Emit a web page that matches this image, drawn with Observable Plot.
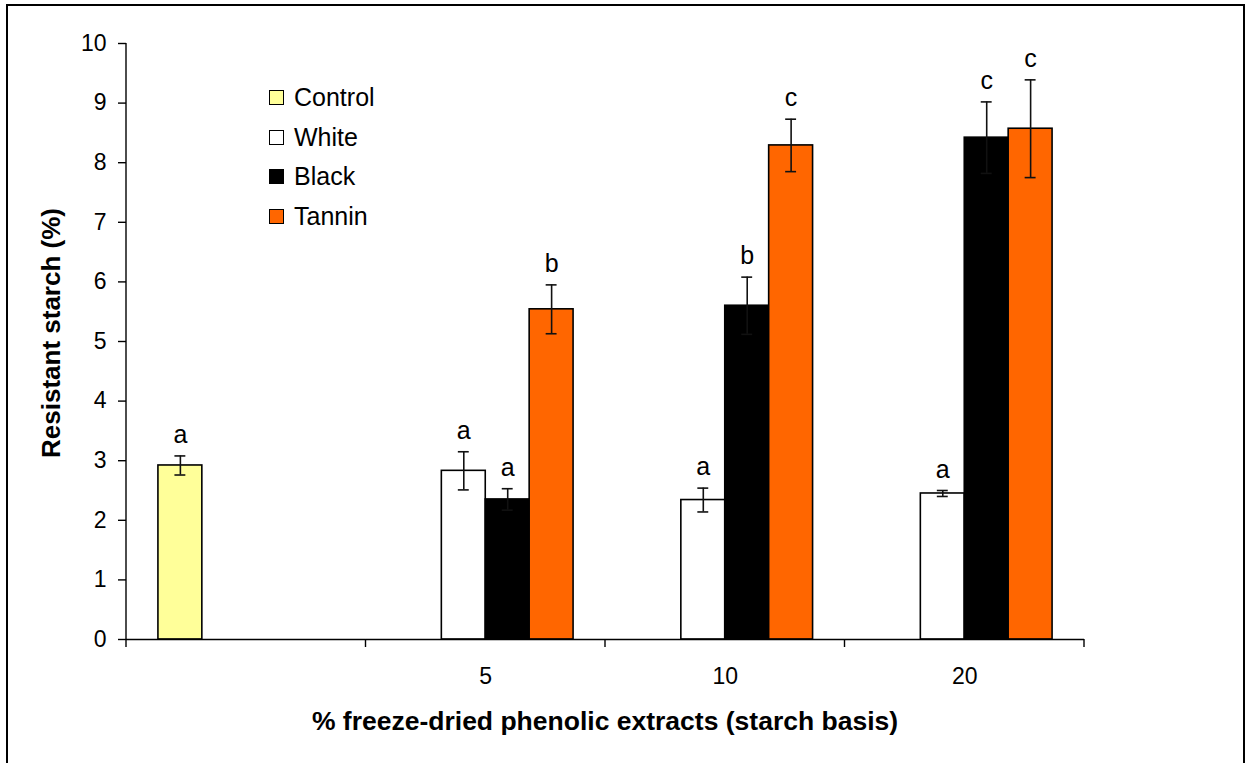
<!DOCTYPE html>
<html>
<head>
<meta charset="utf-8">
<script src="https://cdn.jsdelivr.net/npm/d3@7"></script>
<script src="https://cdn.jsdelivr.net/npm/@observablehq/plot@0.6"></script>
<style>
  html, body { margin: 0; padding: 0; background: #fff; overflow: hidden; }
  #wrap { position: relative; width: 1246px; height: 763px; font-family: "Liberation Sans", Arial, sans-serif; }
  #frame { position: absolute; left: 6px; top: 4px; width: 1239px; height: 800px; border: 2px solid #000; box-sizing: border-box; pointer-events: none; }
  #legend { position: absolute; left: 269px; top: 78px; }
  .row { display: flex; align-items: center; height: 39.6px; }
  .sw { width: 13px; height: 13px; border: 1.5px solid #000; margin-right: 10px; }
  .lb { font-size: 25px; color: #000; line-height: 1; }
</style>
</head>
<body>
<div id="wrap">
  <div id="chart"></div>
  <div id="legend"></div>
  <div id="frame"></div>
</div>
<script>
// Extract level (% starch basis); the control has no level
const doses = ["", "5", "10", "20"];
const series = ["Control", "White", "Black", "Tannin"];
const seriesColors = ["#FFFF99", "#FFFFFF", "#000000", "#FF6600"];

// Resistant starch (%) per treatment, with error and significance letters
const doseOf   = ["", "5", "5", "5", "10", "10", "10", "20", "20", "20"];
const seriesOf = ["Control", "White", "Black", "Tannin", "White", "Black", "Tannin", "White", "Black", "Tannin"];
const meanRS   = [2.92, 2.83, 2.35, 5.54, 2.34, 5.60, 8.29, 2.45, 8.42, 8.57];
const errRS    = [0.16, 0.32, 0.18, 0.41, 0.20, 0.48, 0.44, 0.05, 0.60, 0.82];
const letters  = ["a", "a", "a", "b", "a", "b", "c", "a", "c", "c"];

const yTicks = d3.range(0, 11);
const xTitle = "% freeze-dried phenolic extracts (starch basis)";
const yTitle = "Resistant starch (%)";

const data = meanRS.map((m, i) => ({
  dose: doseOf[i], group: seriesOf[i], mean: m,
  lo: m - errRS[i], hi: m + errRS[i], letter: letters[i]
}));

const font = '"Liberation Sans", Arial, sans-serif';

const chart = Plot.plot({
  width: 1246,
  height: 763,
  marginLeft: 126,
  marginRight: 162,
  marginTop: 43,
  marginBottom: 124,
  style: { fontFamily: font, color: "#000", background: "transparent", overflow: "visible" },
  fx: { domain: doses, padding: 0, round: false, label: null },
  x: { domain: series, paddingInner: 0, paddingOuter: 0.727, round: false, axis: null },
  y: { domain: [0, 10], label: null },
  color: { domain: series, range: seriesColors },
  marks: [
    Plot.axisY({ ticks: yTicks, tickSize: 8, tickPadding: 12, fontSize: 23, label: null, stroke: "#000", strokeWidth: 1.4, strokeOpacity: 1 }),
    Plot.axisFx({ anchor: "bottom", tickSize: 0, tickPadding: 28, fontSize: 23, label: null }),
    Plot.barY(data, { fx: "dose", x: "group", y: "mean", fill: "group", stroke: "#000", strokeWidth: 1.6 }),
    Plot.ruleX(data, { fx: "dose", x: "group", y1: "lo", y2: "hi", stroke: "#111", strokeWidth: 1.6 }),
    Plot.tickY(data, { fx: "dose", x: "group", y: "lo", stroke: "#111", strokeWidth: 1.6, inset: 16.5 }),
    Plot.tickY(data, { fx: "dose", x: "group", y: "hi", stroke: "#111", strokeWidth: 1.6, inset: 16.5 }),
    Plot.text(data, { fx: "dose", x: "group", y: "hi", text: "letter", dy: -21, fontSize: 25, lineAnchor: "middle", fill: "#000" }),
    Plot.ruleY([0], { stroke: "#000", strokeWidth: 1.4 })
  ]
});

document.getElementById("chart").appendChild(chart);

// Value axis line, category boundary ticks below the baseline, and axis titles
const svg = d3.select(chart);
const fx = chart.scale("fx");
const y = chart.scale("y");
const y0 = y.apply(0);
const edges = doses.map(d => fx.apply(d)).concat([fx.apply(doses[doses.length - 1]) + fx.bandwidth]);

svg.append("line")
  .attr("x1", edges[0]).attr("x2", edges[0])
  .attr("y1", y.apply(10)).attr("y2", y0)
  .attr("stroke", "#000").attr("stroke-width", 1.4);

svg.append("g").selectAll("line").data(edges).join("line")
  .attr("x1", d => d).attr("x2", d => d)
  .attr("y1", y0).attr("y2", y0 + 8)
  .attr("stroke", "#000").attr("stroke-width", 1.4);

const xr = [edges[0], edges[edges.length - 1]];
svg.append("text")
  .attr("x", (xr[0] + xr[1]) / 2).attr("y", 730)
  .attr("text-anchor", "middle")
  .attr("font-family", font).attr("font-weight", "bold").attr("font-size", 26.5)
  .attr("fill", "#000")
  .text(xTitle);

const yr = y.range;
svg.append("text")
  .attr("transform", `translate(60, ${(yr[0] + yr[1]) / 2 - 8}) rotate(-90)`)
  .attr("text-anchor", "middle")
  .attr("font-family", font).attr("font-weight", "bold").attr("font-size", 26)
  .attr("fill", "#000")
  .text(yTitle);

// Legend
const legend = d3.select("#legend");
const rows = legend.selectAll(".row").data(series).join("div").attr("class", "row");
rows.append("div").attr("class", "sw").style("background", (d, i) => seriesColors[i]);
rows.append("div").attr("class", "lb").text(d => d);
</script>
</body>
</html>
